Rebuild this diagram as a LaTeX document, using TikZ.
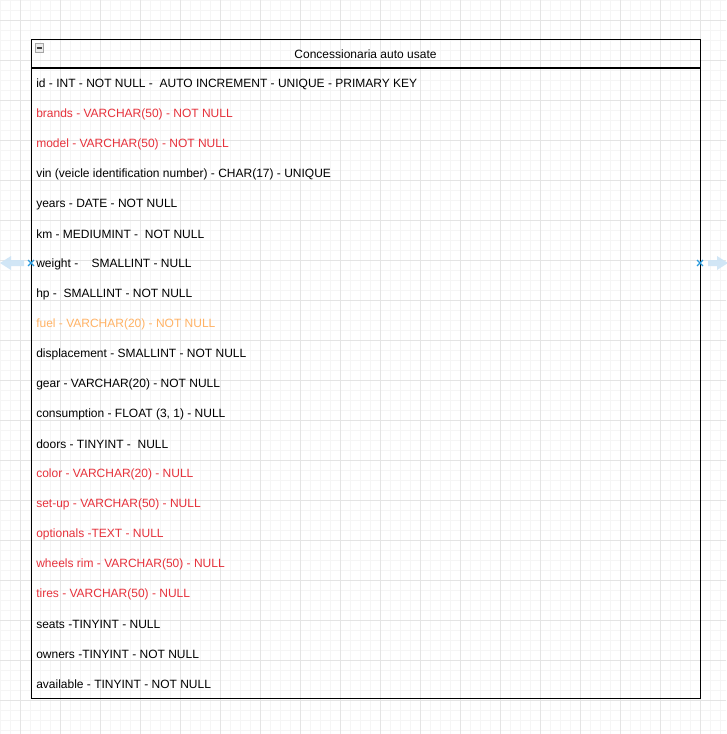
\documentclass[tikz,border=0pt]{standalone}
\usepackage{fontspec}
\setmainfont{Liberation Sans}
\definecolor{gridminor}{RGB}{245,245,245}
\definecolor{gridmajor}{RGB}{228,228,228}
\definecolor{fieldred}{RGB}{230,50,60}
\definecolor{fieldorange}{RGB}{255,179,102}
\definecolor{hoverblue}{RGB}{205,228,246}
\definecolor{markerblue}{RGB}{41,155,222}
\tikzset{
  field/.style={anchor=west, inner sep=0pt, font=\fontsize{9}{10.8}\selectfont, text=black, yshift=-1.2pt},
  redf/.style={field, text=fieldred},
  orangef/.style={field, text=fieldorange},
  tablebox/.style={draw=black, line width=0.8pt},
  hoverarrow/.style={fill=hoverblue, draw=none, opacity=0.9},
  marker/.style={draw=markerblue, line width=0.9pt}
}
\begin{document}
\begin{tikzpicture}[x=0.75pt,y=-0.75pt]
\useasboundingbox (0,0) rectangle (726,734);
\fill[white] (0,0) rectangle (726,734);
% grid
\foreach \g in {0,10,...,730} {
  \draw[gridminor, line width=0.6pt] (\g,0) -- (\g,734);
  \draw[gridminor, line width=0.6pt] (0,\g) -- (726,\g);
}
\foreach \g in {20,60,...,720} {
  \draw[gridmajor, line width=0.6pt] (\g,0) -- (\g,734);
  \draw[gridmajor, line width=0.6pt] (0,\g) -- (726,\g);
}
% table
\node[tablebox, minimum width=669*0.75pt, minimum height=659*0.75pt, anchor=north west, inner sep=0pt] (tbl) at (31,39) {};
\coordinate (sepL) at (31,68);
\coordinate (sepR) at (700,68);
\draw[black, line width=0.8pt] (sepL) -- (sepR);
\node[field] (title) at (365.5,53) [anchor=center] {Concessionaria auto usate};
% collapse icon
\node[draw=gray!70, fill=gray!15, minimum size=8.5*0.75pt, inner sep=0pt, anchor=center, line width=0.6pt] (icon) at (39.5,48) {};
\draw[black!75, line width=1pt] ([xshift=-2.2pt]icon.center) -- ([xshift=2.2pt]icon.center);
% rows
\node[field]   (r1)  at (36,83)  {id - INT - NOT NULL -\ \ AUTO INCREMENT - UNIQUE - PRIMARY KEY};
\node[redf]    (r2)  at (36,113) {brands - VARCHAR(50) - NOT NULL};
\node[redf]    (r3)  at (36,143) {model - VARCHAR(50) - NOT NULL};
\node[field]   (r4)  at (36,173) {vin (veicle identification number) - CHAR(17) - UNIQUE};
\node[field]   (r5)  at (36,203) {years - DATE - NOT NULL};
\node[field]   (r6)  at (36,233) {km - MEDIUMINT -\ \ NOT NULL};
\node[field]   (r7)  at (36,263) {weight -\ \ \ \ SMALLINT - NULL};
\node[field]   (r8)  at (36,293) {hp -\ \ SMALLINT - NOT NULL};
\node[orangef] (r9)  at (36,323) {fuel - VARCHAR(20) - NOT NULL};
\node[field]   (r10) at (36,353) {displacement - SMALLINT - NOT NULL};
\node[field]   (r11) at (36,383) {gear - VARCHAR(20) - NOT NULL};
\node[field]   (r12) at (36,413) {consumption - FLOAT (3, 1) - NULL};
\node[field]   (r13) at (36,443) {doors - TINYINT -\ \ NULL};
\node[redf]    (r14) at (36,473) {color - VARCHAR(20) - NULL};
\node[redf]    (r15) at (36,503) {set-up - VARCHAR(50) - NULL};
\node[redf]    (r16) at (36,533) {optionals -TEXT - NULL};
\node[redf]    (r17) at (36,563) {wheels rim - VARCHAR(50) - NULL};
\node[redf]    (r18) at (36,593) {tires - VARCHAR(50) - NULL};
\node[field]   (r19) at (36,623) {seats -TINYINT - NULL};
\node[field]   (r20) at (36,653) {owners -TINYINT - NOT NULL};
\node[field]   (r21) at (36,683) {available - TINYINT - NOT NULL};
% hover arrows
\fill[hoverarrow] (24,260) -- (11,260) -- (11,256) -- (0,263) -- (11,270) -- (11,266) -- (24,266) -- cycle;
\fill[hoverarrow] (708,260) -- (717,260) -- (717,256) -- (728,263) -- (717,270) -- (717,266) -- (708,266) -- cycle;
% connection markers
\coordinate (mL) at (31,263);
\coordinate (mR) at (700,263);
\draw[marker] ([shift={(-2.2pt,-2.2pt)}]mL) -- ([shift={(2.2pt,2.2pt)}]mL);
\draw[marker] ([shift={(-2.2pt,2.2pt)}]mL) -- ([shift={(2.2pt,-2.2pt)}]mL);
\draw[marker] ([shift={(-2.2pt,-2.2pt)}]mR) -- ([shift={(2.2pt,2.2pt)}]mR);
\draw[marker] ([shift={(-2.2pt,2.2pt)}]mR) -- ([shift={(2.2pt,-2.2pt)}]mR);
\end{tikzpicture}
\end{document}
